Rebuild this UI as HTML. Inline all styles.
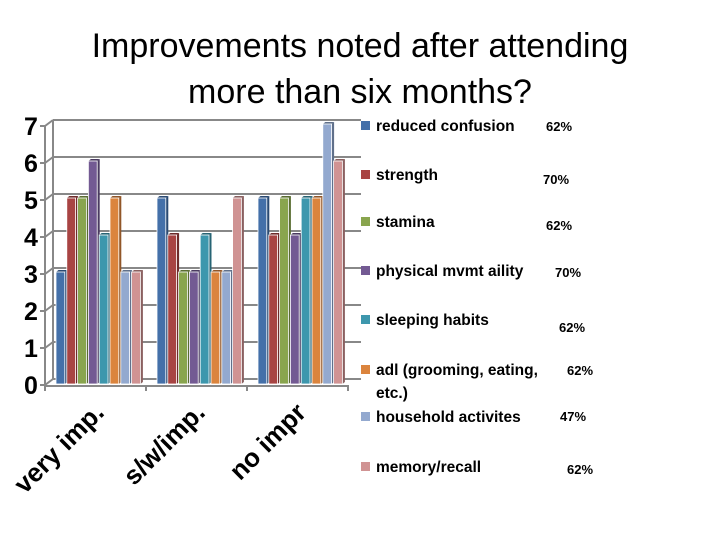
<!DOCTYPE html>
<html><head><meta charset="utf-8"><style>
body{margin:0;background:#fff}
svg{display:block;font-family:"Liberation Sans",sans-serif}
</style></head><body>
<svg id="c" width="720" height="540" viewBox="0 0 720 540">
<text x="360" y="57" text-anchor="middle" font-size="34">Improvements noted after attending</text>
<text x="360" y="103" text-anchor="middle" font-size="34">more than six months?</text>
<g id="grid"></g><g id="bars"></g><g id="ylab"></g><g id="xlab"></g><g id="legend"></g>
</svg>
<script>
const categories=["very imp.","s/w/imp.","no impr"];
const seriesNames=["reduced confusion","strength","stamina","physical mvmt aility","sleeping habits","adl (grooming, eating,","household activites","memory/recall"];
const percents=["62%","70%","62%","70%","62%","62%","47%","62%"];
const s1=[3,5,5];
const s2=[5,4,4];
const s3=[5,3,5];
const s4=[6,3,4];
const s5=[4,4,5];
const s6=[5,3,5];
const s7=[3,3,7];
const s8=[3,5,6];
const series=[s1,s2,s3,s4,s5,s6,s7,s8];
const yTicks=[0,1,2,3,4,5,6,7];
const colors=["#4470a9","#a84443","#89a54e","#735a93","#3d97ad","#db843d","#93a9cf","#d09393"];
const dark=["#2a4a73","#6e2c2b","#5a6d32","#4a3a60","#276474","#915628","#60708a","#8a6060"];
const NS="http://www.w3.org/2000/svg";
function mk(t,a,p){const e=document.createElementNS(NS,t);for(const k in a)e.setAttribute(k,a[k]);p.appendChild(e);return e;}
const x0=45,x1=348,y0=385,unit=37,dx=8,dy=6;
function yS(v){return y0-v*unit;}
const catW=(x1-x0)/categories.length;
function xS(ci,si){return x0+ci*catW+11+si*10.8;}
const grid=document.getElementById('grid');
yTicks.forEach(v=>{
  const l=mk('line',{x1:x0+dx,y1:yS(v)-dy,x2:x1+dx+5,y2:yS(v)-dy,stroke:'#888','stroke-width':2},grid);
  
  
  const d=mk('line',{x1:x0,y1:yS(v),x2:x0+dx,y2:yS(v)-dy,stroke:'#888','stroke-width':2},grid);
  
  
  const t=mk('line',{x1:x0-5,y1:yS(v),x2:x0,y2:yS(v),stroke:'#888','stroke-width':2},grid);
  
  
  const lb=mk('text',{x:31,y:yS(v)+9,'text-anchor':'middle','font-size':25,'font-weight':'bold'},document.getElementById('ylab'));
  lb.textContent=v;
  
  
});
const ax=mk('line',{x1:x0,y1:y0,x2:x0,y2:yS(7),stroke:'#888','stroke-width':2},grid);


const bx=mk('line',{x1:x0+dx,y1:y0-dy,x2:x0+dx,y2:yS(7)-dy,stroke:'#888','stroke-width':2},grid);


const xa=mk('line',{x1:x0,y1:y0+1,x2:x1,y2:y0+1,stroke:'#888','stroke-width':2},grid);


for(let i=0;i<=categories.length;i++){
  const t=mk('line',{x1:x0+i*catW,y1:y0,x2:x0+i*catW,y2:y0+6,stroke:'#888','stroke-width':2},grid);
  
  
}
const bars=document.getElementById('bars');
categories.forEach((c,ci)=>{
  series.forEach((s,si)=>{
    const x=xS(ci,si),top=yS(s[ci])-2,w=8.8;
    const side=mk('polygon',{points:`${x+w},${top} ${x+w+2.5},${top-2} ${x+w+2.5},${y0-3} ${x+w},${y0-1}`,fill:dark[si]},bars);
    
    
    const tp=mk('polygon',{points:`${x},${top} ${x+2.5},${top-2} ${x+w+2.5},${top-2} ${x+w},${top}`,fill:dark[si]},bars);
    
    
    const r=mk('rect',{x:x,y:top,width:w,height:y0-1-top,fill:colors[si],stroke:'#fff','stroke-width':0.8},bars);
    
    
  });
  const cx=x0+ci*catW+catW/2;
  const t=mk('text',{x:0,y:0,'font-size':26,'font-weight':'bold','text-anchor':'end',transform:`translate(${cx+10},${414}) rotate(-45)`},document.getElementById('xlab'));
  t.textContent=c;
  
  
});
const legY=[126,175,222,271,320,370,417,467];
const pctX=[546,543,546,555,559,567,560,567];
const pctY=[126,179,225,272,327,370,416,469];
const leg=document.getElementById('legend');
seriesNames.forEach((n,i)=>{
  const g=mk('g',{},leg);
  
  
  mk('rect',{x:361,y:legY[i]-5,width:9,height:9,fill:colors[i]},g);
  const t=mk('text',{x:376,y:legY[i]+5,'font-size':15.5,'font-weight':'bold'},g);
  t.textContent=n;
  const p=mk('text',{x:pctX[i],y:pctY[i]+5,'font-size':13,'font-weight':'bold'},g);
  p.textContent=percents[i];
});
const e=mk('text',{x:376,y:398,'font-size':15.5,'font-weight':'bold'},leg);
e.textContent='etc.)';


</script>
</body></html>
